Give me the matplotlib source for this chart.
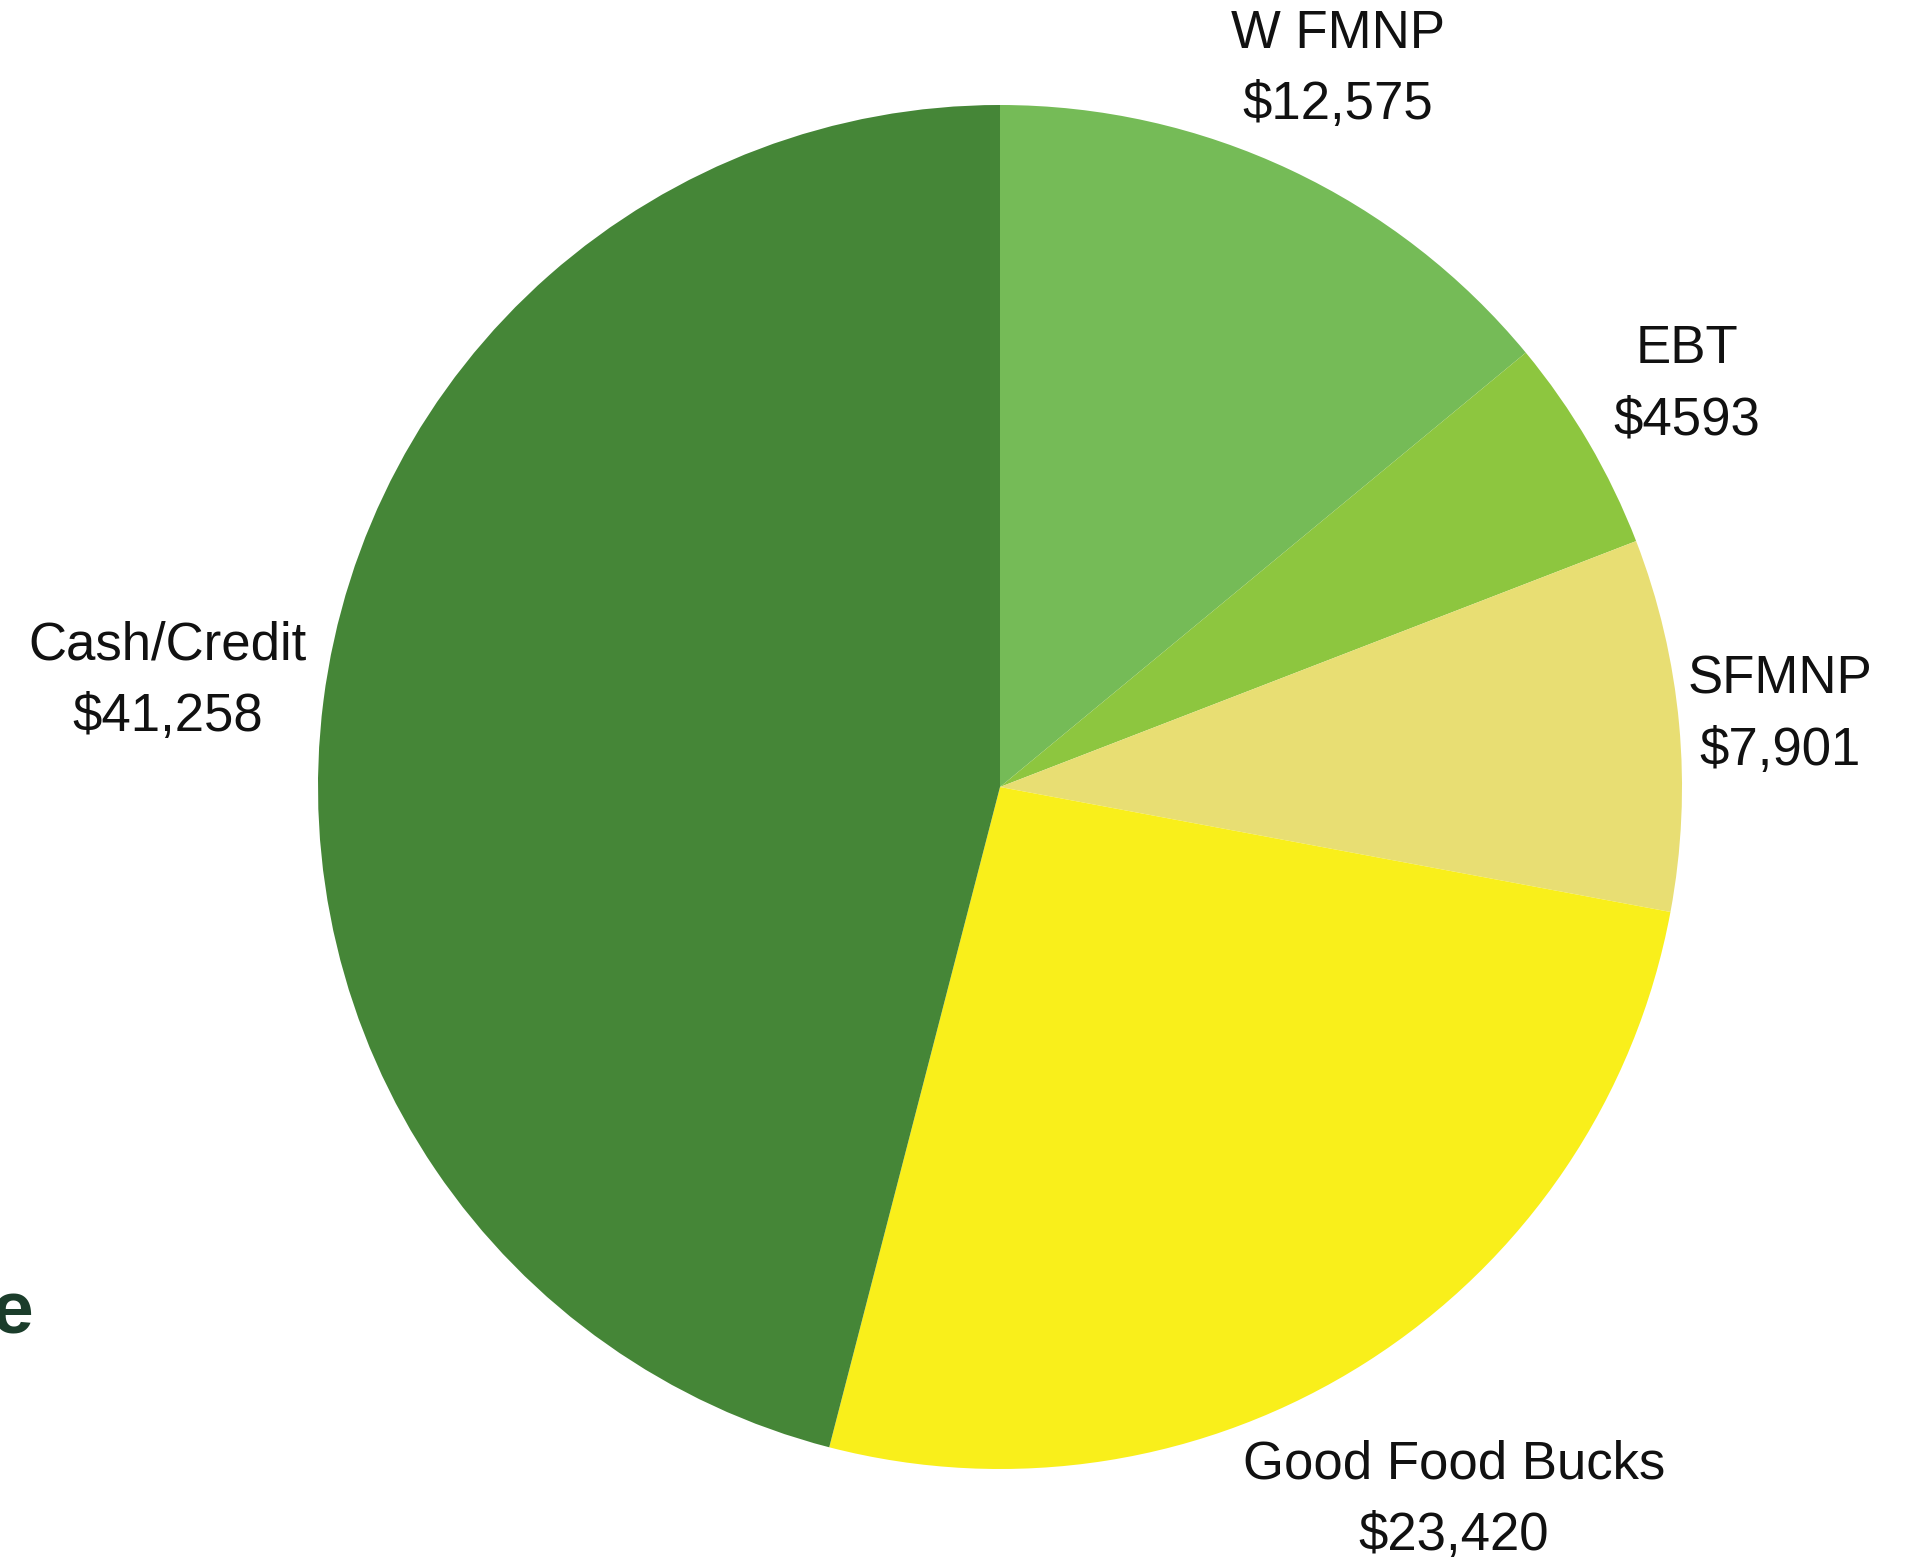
import matplotlib.pyplot as plt

labels = ["W FMNP", "EBT", "SFMNP", "Good Food Bucks", "Cash/Credit"]
amounts = [12575, 4593, 7901, 23420, 41258]
amount_text = ["$12,575", "$4593", "$7,901", "$23,420", "$41,258"]
colors = ["#75BB57", "#8DC63F", "#E8DE73", "#F9EF1B", "#458637"]

plt.rcParams['font.family'] = ['Liberation Sans', 'DejaVu Sans']

fig = plt.figure(figsize=(19.05, 15.65), dpi=100)
W, H = 1905, 1565
cx, cy, r = 1000, 787, 682
ax = fig.add_axes([(cx - r) / W, (H - cy - r) / H, 2 * r / W, 2 * r / H])

wedges, texts = ax.pie(amounts, colors=colors, startangle=90, counterclock=False,
                       labels=[l + "\n" + a for l, a in zip(labels, amount_text)],
                       labeldistance=1.0, wedgeprops=dict(linewidth=0),
                       textprops=dict(fontsize=38, color='#111111', linespacing=1.55))

# distance of each label from the centre (in radii)
dists = [1.163, 1.167, 1.149, 1.24, 1.23]
for t, d in zip(texts, dists):
    x, y = t.get_position()
    t.set_position((x * d, y * d))
    t.set_ha('center')
    t.set_va('center')

ax.set_xlim(-1, 1)
ax.set_ylim(-1, 1)
ax.set_aspect('equal')
ax.axis('off')

# cut-off title fragment at the left edge
fig.text(33 / W, 1 - 1333 / H, "e", ha='right', va='baseline', fontsize=54,
         fontweight='bold', color='#1B3D2B')

fig.savefig("out.png", dpi=100)
